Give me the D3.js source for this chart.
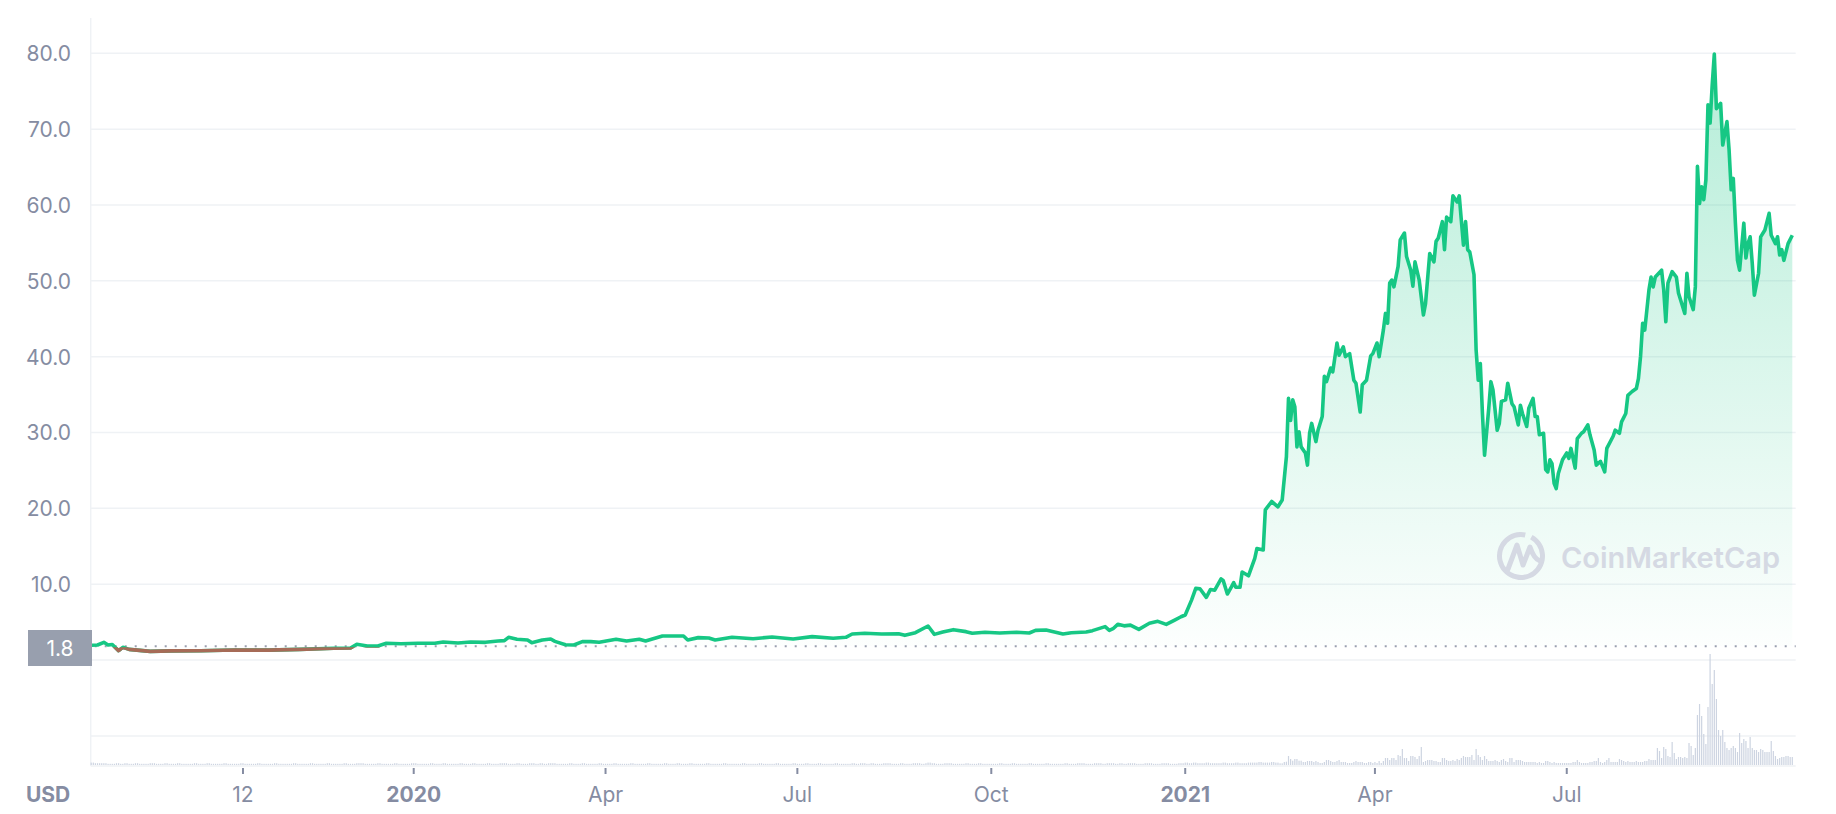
<!DOCTYPE html>
<html><head><meta charset="utf-8">
<script src="https://cdn.jsdelivr.net/npm/d3@7"></script>
<style>html,body{margin:0;padding:0;background:#fff;} svg{display:block;font-family:Inter,"Noto Sans",sans-serif;}</style>
</head><body><svg id="chart" width="1836" height="814"></svg>
<script>
// ---------- DATA ----------
const priceDates = [
"2019-08-01","2019-08-04","2019-08-07","2019-08-09","2019-08-11","2019-08-14","2019-08-16","2019-08-19","2019-08-29","2019-09-08",
"2019-09-22","2019-10-08","2019-10-24","2019-11-08","2019-11-24","2019-12-02","2019-12-05","2019-12-10","2019-12-15","2019-12-19",
"2019-12-26","2020-01-03","2020-01-11","2020-01-15","2020-01-22","2020-01-28","2020-02-04","2020-02-10","2020-02-13","2020-02-15",
"2020-02-19","2020-02-24","2020-02-26","2020-03-02","2020-03-06","2020-03-08","2020-03-13","2020-03-17","2020-03-21","2020-03-25",
"2020-03-29","2020-04-06","2020-04-11","2020-04-17","2020-04-20","2020-04-28","2020-05-08","2020-05-10","2020-05-15","2020-05-20",
"2020-05-23","2020-05-31","2020-06-10","2020-06-19","2020-06-29","2020-07-08","2020-07-18","2020-07-24","2020-07-27","2020-08-02",
"2020-08-10","2020-08-18","2020-08-21","2020-08-26","2020-09-01","2020-09-04","2020-09-08","2020-09-13","2020-09-19","2020-09-22",
"2020-09-28","2020-10-05","2020-10-13","2020-10-19","2020-10-22","2020-10-27","2020-11-04","2020-11-08","2020-11-15","2020-11-18",
"2020-11-24","2020-11-26","2020-11-28","2020-11-30","2020-12-03","2020-12-06","2020-12-10","2020-12-15","2020-12-19","2020-12-23",
"2020-12-27","2020-12-30","2021-01-01","2021-01-04","2021-01-06","2021-01-08","2021-01-11","2021-01-13","2021-01-15","2021-01-18",
"2021-01-19","2021-01-21","2021-01-23","2021-01-24","2021-01-25","2021-01-27","2021-01-28","2021-01-31","2021-02-03","2021-02-04",
"2021-02-07","2021-02-08","2021-02-11","2021-02-14","2021-02-16","2021-02-18","2021-02-19","2021-02-20","2021-02-21","2021-02-22",
"2021-02-23","2021-02-24","2021-02-25","2021-02-27","2021-02-28","2021-03-01","2021-03-02","2021-03-04","2021-03-05","2021-03-07",
"2021-03-08","2021-03-09","2021-03-11","2021-03-12","2021-03-14","2021-03-15","2021-03-17","2021-03-18","2021-03-20","2021-03-22",
"2021-03-23","2021-03-25","2021-03-26","2021-03-28","2021-03-30","2021-03-31","2021-04-02","2021-04-03","2021-04-05","2021-04-06",
"2021-04-07","2021-04-08","2021-04-09","2021-04-10","2021-04-12","2021-04-13","2021-04-15","2021-04-16","2021-04-18","2021-04-19",
"2021-04-20","2021-04-22","2021-04-24","2021-04-25","2021-04-27","2021-04-29","2021-04-30","2021-05-01","2021-05-03","2021-05-04",
"2021-05-05","2021-05-07","2021-05-08","2021-05-10","2021-05-11","2021-05-13","2021-05-14","2021-05-15","2021-05-16","2021-05-18",
"2021-05-19","2021-05-20","2021-05-21","2021-05-22","2021-05-23","2021-05-25","2021-05-26","2021-05-27","2021-05-29","2021-05-30",
"2021-05-31","2021-06-02","2021-06-03","2021-06-05","2021-06-06","2021-06-08","2021-06-09","2021-06-10","2021-06-12","2021-06-13",
"2021-06-15","2021-06-16","2021-06-17","2021-06-18","2021-06-20","2021-06-21","2021-06-22","2021-06-23","2021-06-24","2021-06-25",
"2021-06-26","2021-06-27","2021-06-29","2021-07-01","2021-07-02","2021-07-03","2021-07-05","2021-07-06","2021-07-08","2021-07-09",
"2021-07-11","2021-07-12","2021-07-14","2021-07-15","2021-07-17","2021-07-19","2021-07-20","2021-07-23","2021-07-24","2021-07-26",
"2021-07-27","2021-07-29","2021-07-30","2021-08-01","2021-08-03","2021-08-04","2021-08-05","2021-08-06","2021-08-07","2021-08-09",
"2021-08-10","2021-08-11","2021-08-12","2021-08-15","2021-08-16","2021-08-17","2021-08-18","2021-08-20","2021-08-22","2021-08-23",
"2021-08-26","2021-08-27","2021-08-28","2021-08-30","2021-08-31","2021-09-01","2021-09-02","2021-09-03","2021-09-04","2021-09-05",
"2021-09-06","2021-09-07","2021-09-08","2021-09-09","2021-09-10","2021-09-12","2021-09-13","2021-09-15","2021-09-16","2021-09-17",
"2021-09-18","2021-09-19","2021-09-20","2021-09-21","2021-09-23","2021-09-24","2021-09-25","2021-09-26","2021-09-27","2021-09-28",
"2021-09-30","2021-10-01","2021-10-03","2021-10-05","2021-10-06","2021-10-08","2021-10-09","2021-10-10","2021-10-11","2021-10-12",
"2021-10-14","2021-10-16"
];
const priceValues = [
1.95,1.98,2.33,1.98,2.05,1.23,1.67,1.40,1.14,1.20,
1.22,1.32,1.30,1.40,1.54,1.58,2.07,1.85,1.85,2.20,
2.15,2.20,2.20,2.37,2.25,2.37,2.33,2.50,2.55,2.99,
2.73,2.64,2.29,2.64,2.77,2.46,2.02,1.98,2.42,2.42,
2.35,2.73,2.50,2.73,2.50,3.16,3.16,2.64,2.95,2.90,
2.64,2.99,2.81,3.03,2.77,3.08,2.86,2.99,3.43,3.52,
3.43,3.47,3.25,3.60,4.48,3.38,3.69,4.00,3.74,3.52,
3.65,3.56,3.65,3.56,3.91,3.96,3.43,3.60,3.69,3.87,
4.40,3.91,4.18,4.70,4.50,4.60,4.04,4.84,5.10,4.70,
5.27,5.70,5.93,7.90,9.45,9.40,8.26,9.30,9.20,10.7,
10.5,8.7,9.67,10.2,9.6,9.6,11.6,11.1,13.4,14.7,
14.5,19.8,20.9,20.2,21.1,26.8,34.5,31.6,34.3,33.4,
28.1,30.1,28.1,27.3,25.7,29.9,31.2,28.8,30.3,32.1,
37.4,36.7,38.5,38.0,41.8,40.2,41.3,40.0,40.4,36.9,
36.5,32.7,36.3,36.9,40.1,40.4,41.8,40.0,43.5,45.7,
44.4,49.7,50.1,49.2,51.9,55.4,56.3,53.2,51.4,49.3,
52.5,50.1,45.5,47.0,53.6,52.5,55.2,55.6,57.8,54.1,
58.4,57.8,61.2,60.4,61.2,54.7,57.8,54.1,53.8,50.8,
40.9,36.9,39.1,32.5,27.0,33.2,36.7,35.6,30.3,31.2,
34.1,34.3,36.5,33.8,33.4,31.0,33.6,32.5,30.8,33.2,
34.5,32.1,32.1,29.7,29.9,25.1,24.8,26.4,25.9,23.3,
22.6,24.6,26.4,27.3,26.6,27.9,25.3,29.2,29.9,30.1,
31.0,29.7,27.7,25.7,26.2,24.8,27.9,29.5,30.3,29.9,
31.4,32.5,34.9,35.4,35.8,37.1,40.0,44.4,43.5,48.8,
50.5,49.2,50.5,51.4,48.8,44.6,49.7,51.2,50.5,48.4,
45.7,51.0,47.9,46.2,49.2,65.1,60.2,62.4,60.7,63.3,
73.2,70.8,75.8,79.9,72.7,73.4,67.9,71.0,67.3,62.0,
63.5,57.6,52.7,51.4,57.6,53.0,54.9,55.8,52.3,48.1,
51.0,55.8,56.7,58.9,56.0,54.9,55.8,53.4,54.1,52.7,
54.9,56.0
];
// daily volume 2019-08-01 .. 2021-02-14, one digit per day, in units of $6M
const earlyVolumeStart = "2019-08-01";
const earlyVolumeDigits = [
"4433333322223322332223322222333",   // 2019-08
"222233222233222222332222332222",    // 2019-09
"2233222222332222223322222233222",   // 2019-10
"222233222222332222223322222233",    // 2019-11
"2222333322222233222222332222223",   // 2019-12
"3322222233222233222222332222332",   // 2020-01
"22223322223333222233222233322",     // 2020-02
"3322333322222233222233222222332",   // 2020-03
"222233222222332222223322222233",    // 2020-04
"2222332222332222223322222233222",   // 2020-05
"222233222222332222223322222233",    // 2020-06
"2222332222332222223322222233223",   // 2020-07
"3322332222333322223322223333223",   // 2020-08
"443322223333222222332222332222",    // 2020-09
"2222332222332222223322222233222",   // 2020-10
"222233222233332222333322333322",    // 2020-11
"3322333322223333222233332222333",   // 2020-12
"4433443333443333334433334433334",   // 2021-01
"44445544445544"                     // 2021-02
];
const volumeStart = "2021-02-15";
const volumeValues = [ // daily volume, $M
17,17,30,33,90,60,43,60,60,43,43,30,30,40,40,40,30,40,30,20,
20,30,50,50,40,30,30,40,50,30,30,30,20,20,20,30,40,30,30,30,
20,20,30,30,20,30,20,40,20,40,70,70,50,70,70,50,100,90,160,70,
70,40,90,90,80,60,90,180,30,40,50,50,50,40,40,30,30,70,70,50,
40,40,50,40,60,50,70,90,80,80,80,100,50,160,100,80,50,90,60,40,
40,40,50,40,30,50,60,40,30,70,70,30,50,50,50,40,30,30,30,30,
30,30,20,30,20,20,40,40,30,20,30,20,20,20,20,20,20,20,20,30,
30,50,30,20,20,20,20,30,30,40,40,70,30,20,30,50,70,30,30,30,
30,60,50,40,30,40,30,30,30,40,30,30,30,40,40,60,50,50,50,170,
140,70,180,160,90,80,230,120,60,80,80,70,80,70,220,190,100,170,500,610,
490,310,210,580,1110,810,950,660,350,290,350,230,170,150,170,190,170,130,320,220,
260,240,170,280,170,150,150,130,160,150,130,130,130,240,140,90,60,70,80,80,
90,90,80,80
];
const yTicks = [10,20,30,40,50,60,70,80];
const xTickDates = ["2019-10-12","2020-01-01","2020-04-01","2020-07-01","2020-10-01","2021-01-01","2021-04-01","2021-07-01"];
const xTickLabels = ["12","2020","Apr","Jul","Oct","2021","Apr","Jul"];
const xTickBold = [false,true,false,false,false,true,false,false];
const baseValue = 1.8;
const currencyLabel = "USD";
const watermarkText = "CoinMarketCap";

// ---------- CHART ----------
const parse = d3.utcParse("%Y-%m-%d");
const price = priceDates.map((d,i)=>({date:parse(d), v:priceValues[i]}));
const e0 = parse(earlyVolumeStart);
const earlyVol = earlyVolumeDigits.join("").split("").map((c,i)=>({date:d3.utcDay.offset(e0,i), v:+c*6}));
const v0 = parse(volumeStart);
const volume = earlyVol.concat(volumeValues.map((v,i)=>({date:d3.utcDay.offset(v0,i), v})));

const svg = d3.select("#chart");
const plotL = 90.7, plotR = 1795.7;
const x = d3.scaleUtc().domain([parse("2019-08-01"), parse("2021-10-16")]).range([91.2, 1792.3]);
const y = d3.scaleLinear().domain([0,80]).range([660, 53.3]);
const yv = d3.scaleLinear().domain([0,1110]).range([765, 654]);

const grey = "#858ca2", grid = "#eff2f5";

// gridlines
svg.append("g").selectAll("line").data([0].concat(yTicks)).join("line")
  .attr("x1", plotL).attr("x2", plotR)
  .attr("y1", d=>y(d)).attr("y2", d=>y(d))
  .attr("stroke", grid).attr("stroke-width", 1.5);
svg.append("line").attr("x1",plotL).attr("x2",plotR).attr("y1",736).attr("y2",736).attr("stroke",grid).attr("stroke-width",1.5);
svg.append("line").attr("x1",plotL).attr("x2",plotR).attr("y1",766).attr("y2",766).attr("stroke",grid).attr("stroke-width",1.5);
svg.append("line").attr("x1",plotL).attr("x2",plotL).attr("y1",18).attr("y2",766).attr("stroke",grid).attr("stroke-width",1.5);

// y labels
svg.append("g").selectAll("text").data(yTicks).join("text")
  .attr("x", 71).attr("y", d=>y(d)+8)
  .attr("text-anchor","end").attr("fill",grey)
  .style("font-size","21px")
  .text(d=>d3.format(".1f")(d));

// volume bars
svg.append("g").selectAll("rect").data(volume).join("rect")
  .attr("x", d=>x(d.date)-0.6).attr("width",1.2)
  .attr("y", d=>yv(d.v)).attr("height", d=>yv(0)-yv(d.v))
  .attr("fill","#cdd4e1");

// gradient
const defs = svg.append("defs");
const grad = defs.append("linearGradient").attr("id","g1").attr("gradientUnits","userSpaceOnUse")
  .attr("x1",0).attr("x2",0).attr("y1",y(80)).attr("y2",y(baseValue));
grad.append("stop").attr("offset","0%").attr("stop-color","#16c784").attr("stop-opacity",0.32);
grad.append("stop").attr("offset","100%").attr("stop-color","#16c784").attr("stop-opacity",0.01);
defs.append("clipPath").attr("id","above").append("rect").attr("x",0).attr("y",0).attr("width",1836).attr("height",y(baseValue));
defs.append("clipPath").attr("id","below").append("rect").attr("x",0).attr("y",y(baseValue)+1).attr("width",1836).attr("height",200);

const area = d3.area().x(d=>x(d.date)).y0(y(baseValue)).y1(d=>y(d.v));
svg.append("path").datum(price).attr("d",area).attr("fill","url(#g1)").attr("clip-path","url(#above)");

// baseline dotted
svg.append("line").attr("x1",plotL+4).attr("x2",plotR).attr("y1",y(baseValue)).attr("y2",y(baseValue))
  .attr("stroke","#9aa0b0").attr("stroke-width",2).attr("stroke-dasharray","2 8");

const line = d3.line().x(d=>x(d.date)).y(d=>y(d.v));
svg.append("path").datum(price).attr("d",line).attr("fill","none").attr("stroke","#16c784")
  .attr("stroke-width",3.6).attr("stroke-linejoin","round");
svg.append("path").datum(price).attr("d",line).attr("fill","none").attr("stroke","#a66b57")
  .attr("stroke-width",3.6).attr("stroke-linejoin","round").attr("clip-path","url(#below)");

// x ticks
const xt = svg.append("g");
xTickDates.forEach((d,i)=>{
  const xx = x(parse(d));
  xt.append("line").attr("x1",xx).attr("x2",xx).attr("y1",768).attr("y2",774).attr("stroke",grey).attr("stroke-width",2);
  xt.append("text").attr("x",xx).attr("y",802).attr("text-anchor","middle").attr("fill",grey)
    .style("font-size","21px").style("font-weight",xTickBold[i]?700:400).text(xTickLabels[i]);
});
svg.append("text").attr("x",26).attr("y",802).attr("fill",grey).style("font-size","21px").style("font-weight",700).text(currencyLabel);

// base value label
svg.append("rect").attr("x",28).attr("y",630).attr("width",64).attr("height",36).attr("fill","#989fae");
svg.append("text").attr("x",60).attr("y",656).attr("text-anchor","middle").attr("fill","#fff").style("font-size","21px").text(d3.format(".1f")(baseValue));

// watermark
const wmC = "#d5d9e3";
const wm = svg.append("g").attr("fill","none").attr("stroke",wmC);
wm.append("path").attr("d", d3.arc()({innerRadius:19, outerRadius:24, startAngle:0.5, endAngle:2*Math.PI+0.2})).attr("transform","translate(1521,556)").attr("fill",wmC).attr("stroke","none");
wm.append("path").attr("d","M1508,569 L1517,545 L1523,565 L1530,547 Q1534,559 1540,561").attr("stroke-width",5).attr("stroke-linecap","round").attr("stroke-linejoin","round");
svg.append("text").attr("x",1561).attr("y",568).attr("fill",wmC).style("font-size","29px").style("font-weight",600).text(watermarkText);
</script></body></html>
